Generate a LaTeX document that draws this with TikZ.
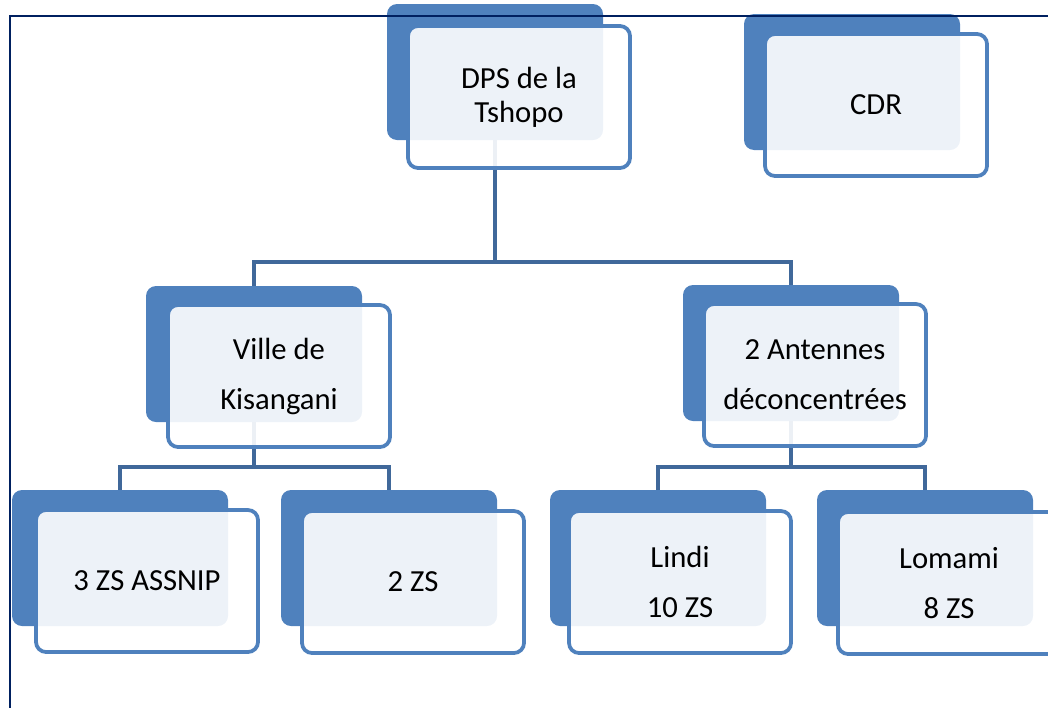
\documentclass[tikz,border=0pt]{standalone}
\usepackage{fontspec}
\setmainfont{Carlito}
\usetikzlibrary{backgrounds}
\definecolor{boxblue}{RGB}{79,129,189}
\definecolor{linkblue}{RGB}{64,104,154}
\definecolor{framenavy}{RGB}{0,32,96}

\begin{document}
\begin{tikzpicture}[x=0.75pt,y=-0.75pt,
  backbox/.style={rectangle,rounded corners=7.5pt,fill=boxblue,
    minimum width=162pt,minimum height=102pt,inner sep=0pt},
  frontbox/.style={rectangle,rounded corners=7.5pt,draw=boxblue,line width=2.8pt,
    fill=white,fill opacity=0.9,text opacity=1,minimum width=166.5pt,
    minimum height=106.5pt,inner sep=0pt,align=center,
    font=\fontsize{23}{37.5}\selectfont},
  link/.style={draw=linkblue,line width=2.8pt},
  frameline/.style={draw=framenavy,line width=2.2pt}]

\useasboundingbox (0,0) rectangle (1048,707);

% back boxes
\node[backbox] (dpsB) at (495,72) {};
\node[backbox] (cdrB) at (852,82) {};
\node[backbox] (kisB) at (254,354) {};
\node[backbox] (antB) at (791,353) {};
\node[backbox] (assnipB) at (120,558) {};
\node[backbox] (zsB) at (389,558) {};
\node[backbox] (lindiB) at (658,558) {};
\node[backbox] (lomamiB) at (925,558) {};

% front boxes with the labels
\node[frontbox,font=\fontsize{23}{25.5}\selectfont] (dps) at (519,97) {DPS de la\\Tshopo};
\node[frontbox] (cdr) at (876,105) {CDR};
\node[frontbox] (kis) at (279,376) {Ville de\\Kisangani};
\node[frontbox] (ant) at (815,375) {2 Antennes\\déconcentrées};
\node[frontbox] (assnip) at (147,581) {3 ZS ASSNIP};
\node[frontbox] (zs) at (413,582) {2 ZS};
\node[frontbox] (lindi) at (680,582) {Lindi\\10 ZS};
\node[frontbox] (lomami) at (949,583) {Lomami\\8 ZS};

% links
\coordinate (bar1) at (495,262);
\coordinate (bar2) at (254,467);
\coordinate (bar3) at (791,467);
\begin{scope}[on background layer]
\draw[link] (dpsB.south) -- (bar1);
\draw[link] (kisB.north) |- (bar1) -| (antB.north);
\draw[link] (kisB.south) -- (bar2);
\draw[link] (assnipB.north) |- (bar2) -| (zsB.north);
\draw[link] (antB.south) -- (bar3);
\draw[link] (lindiB.north) |- (bar3) -| (lomamiB.north);
\end{scope}

% page frame
\draw[frameline] (1060,16) -| (10,720);

\end{tikzpicture}
\end{document}
